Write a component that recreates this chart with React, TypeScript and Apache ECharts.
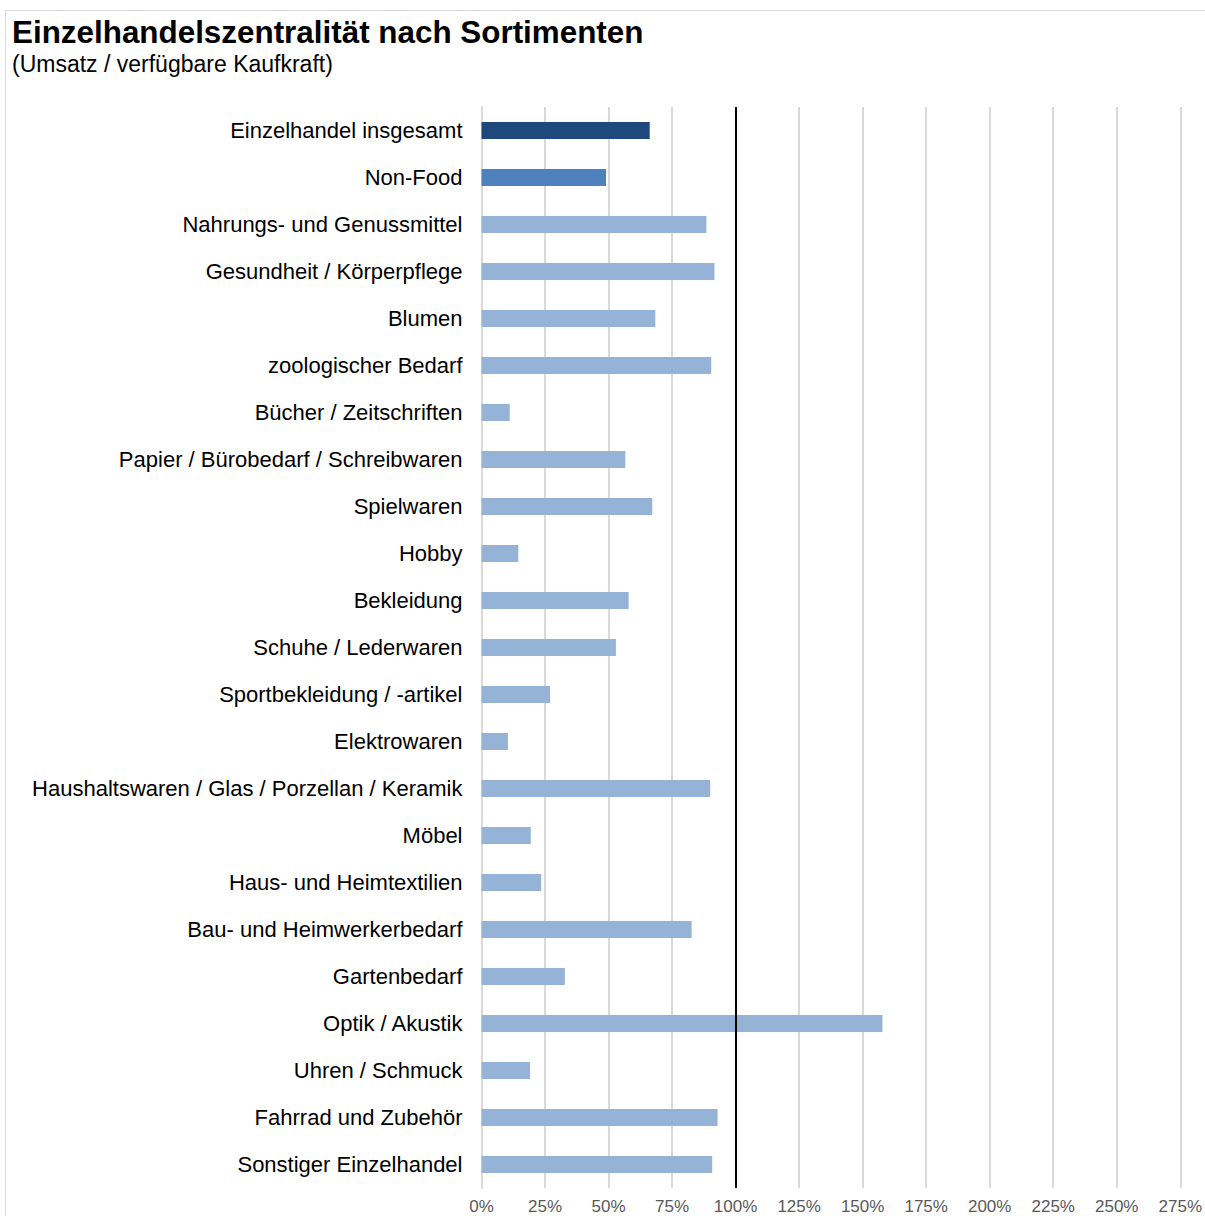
import React, { useEffect, useRef } from "react";
import * as echarts from "echarts";

const categories = [
  "Einzelhandel insgesamt",
  "Non-Food",
  "Nahrungs- und Genussmittel",
  "Gesundheit / Körperpflege",
  "Blumen",
  "zoologischer Bedarf",
  "Bücher / Zeitschriften",
  "Papier / Bürobedarf / Schreibwaren",
  "Spielwaren",
  "Hobby",
  "Bekleidung",
  "Schuhe / Lederwaren",
  "Sportbekleidung / -artikel",
  "Elektrowaren",
  "Haushaltswaren / Glas / Porzellan / Keramik",
  "Möbel",
  "Haus- und Heimtextilien",
  "Bau- und Heimwerkerbedarf",
  "Gartenbedarf",
  "Optik / Akustik",
  "Uhren / Schmuck",
  "Fahrrad und Zubehör",
  "Sonstiger Einzelhandel",
];

const values = [
  66.2, 49.0, 88.5, 91.7, 68.4, 90.4, 11.1, 56.6, 67.2, 14.5, 57.9, 52.9, 27.0,
  10.4, 90.0, 19.4, 23.5, 82.7, 32.8, 157.8, 19.1, 92.9, 90.8,
];

const barColors = ["#1F497D", "#4F81BD"];
const defaultBarColor = "#95B3D7";

const title = "Einzelhandelszentralität nach Sortimenten";
const subtitle = "(Umsatz / verfügbare Kaufkraft)";

export default function App() {
  const ref = useRef<HTMLDivElement>(null);
  useEffect(() => {
    document.body.style.margin = "0";
    const chart = echarts.init(ref.current!, null, { renderer: "svg" });
    chart.setOption({
      animation: false,
      backgroundColor: "#ffffff",
      textStyle: { fontFamily: "Liberation Sans, Arial, sans-serif" },
      graphic: [
        {
          type: "line",
          shape: { x1: 5, y1: 10.5, x2: 1205, y2: 10.5 },
          style: { stroke: "#d9d9d9", lineWidth: 1 },
        },
        {
          type: "line",
          shape: { x1: 5.5, y1: 10, x2: 5.5, y2: 1216 },
          style: { stroke: "#d9d9d9", lineWidth: 1 },
        },
        {
          type: "text",
          left: 12,
          top: 17,
          style: {
            text: title,
            font: "bold 31.4px 'Liberation Sans', Arial, sans-serif",
            fill: "#000000",
          },
        },
        {
          type: "text",
          left: 12,
          top: 52,
          style: {
            text: subtitle,
            font: "23px 'Liberation Sans', Arial, sans-serif",
            fill: "#000000",
          },
        },
      ],
      grid: { left: 481.5, right: 24, top: 107, bottom: 28, containLabel: false },
      xAxis: {
        type: "value",
        min: 0,
        max: 275,
        interval: 25,
        axisLine: { show: false },
        axisTick: { show: false },
        splitLine: { show: true, lineStyle: { color: "#d9d9d9", width: 2 } },
        axisLabel: {
          formatter: "{value}%",
          color: "#595959",
          fontSize: 17,
          margin: 10,
        },
      },
      yAxis: {
        type: "category",
        data: categories,
        inverse: true,
        axisLine: { show: true, lineStyle: { color: "#d9d9d9", width: 2 } },
        axisTick: { show: false },
        axisLabel: { color: "#000000", fontSize: 22, margin: 19 },
      },
      series: [
        {
          type: "bar",
          barWidth: 17,
          data: values.map((v, i) => ({
            value: v,
            itemStyle: { color: barColors[i] ?? defaultBarColor },
          })),
          markLine: {
            silent: true,
            symbol: "none",
            label: { show: false },
            lineStyle: { color: "#000000", width: 2, type: "solid" },
            data: [{ xAxis: 100 }],
          },
        },
      ],
    });
    return () => chart.dispose();
  }, []);
  return <div ref={ref} style={{ width: 1205, height: 1216 }} />;
}
